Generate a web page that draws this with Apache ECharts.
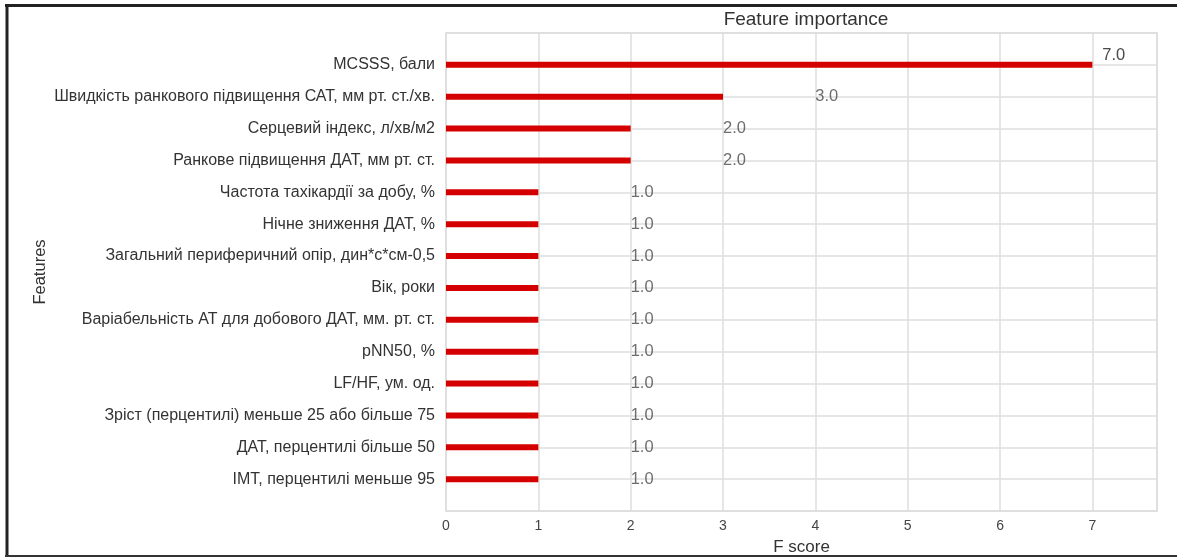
<!DOCTYPE html>
<html>
<head>
<meta charset="utf-8">
<script src="https://cdn.jsdelivr.net/npm/echarts@6/dist/echarts.min.js"></script>
<style>
  html, body { margin: 0; padding: 0; background: #fff; }
  #chart { width: 1177px; height: 557px; }
</style>
</head>
<body>
<div id="chart"></div>
<script>
// Feature names, top to bottom
const features = [
  'MCSSS, бали',
  'Швидкість ранкового підвищення САТ, мм рт. ст./хв.',
  'Серцевий індекс, л/хв/м2',
  'Ранкове підвищення ДАТ, мм рт. ст.',
  'Частота тахікардії за добу, %',
  'Нічне зниження ДАТ, %',
  'Загальний периферичний опір, дин*с*см-0,5',
  'Вік, роки',
  'Варіабельність АТ для добового ДАТ, мм. рт. ст.',
  'pNN50, %',
  'LF/HF, ум. од.',
  'Зріст (перцентилі) меньше 25 або більше 75',
  'ДАТ, перцентилі більше 50',
  'IMT, перцентилі меньше 95'
];
// F score per feature
const fScores = [7, 3, 2, 2, 1, 1, 1, 1, 1, 1, 1, 1, 1, 1];
const xTicks = [0, 1, 2, 3, 4, 5, 6, 7];
const xMax = 7.7;

const FONT = '"Liberation Sans", Arial, sans-serif';
const VALUE_LABEL = { color: '#4a4a4a', fontSize: 16.5, fontFamily: FONT };

// one empty slot above and below the bars gives the padding of the axis range
const yCats = [''].concat(features, ['']);
const barData = [null].concat(fScores.map(v => {
  if (v + 1 > xMax) {
    // no room one unit past the end: the score sits just right of the bar, raised
    return {
      value: v,
      label: Object.assign({
        show: true, position: 'right', distance: 10, offset: [0, -9],
        formatter: v.toFixed(1)
      }, VALUE_LABEL)
    };
  }
  return v;
}), [null]);
// score text sits one unit to the right of each bar end
const labelData = [];
fScores.forEach((v, i) => {
  if (v + 1 <= xMax) labelData.push({ value: [v + 1, features[i]], score: v });
});

const chart = echarts.init(document.getElementById('chart'), null, { renderer: 'canvas' });
chart.setOption({
  animation: false,
  backgroundColor: '#fff',
  title: {
    text: 'Feature importance',
    left: 801, top: 5, textAlign: 'center',
    textStyle: { fontFamily: FONT, fontSize: 19, fontWeight: 'normal', color: '#333' }
  },
  grid: {
    left: 446, right: 20, top: 33, bottom: 46,
    outerBoundsMode: 'none', containLabel: false,
    show: true, borderColor: '#d8d8d8', borderWidth: 1.5, backgroundColor: '#fff'
  },
  xAxis: {
    type: 'value', min: 0, max: xMax, interval: 1,
    name: 'F score', nameLocation: 'middle', nameGap: 28,
    nameTextStyle: { fontFamily: FONT, fontSize: 17, color: '#333' },
    axisLine: { show: false }, axisTick: { show: false },
    axisLabel: {
      fontFamily: FONT, fontSize: 14, color: '#444', margin: 8,
      showMaxLabel: false,
      formatter: v => (xTicks.indexOf(v) >= 0 ? String(v) : '')
    },
    splitLine: { show: true, lineStyle: { color: '#dedede', width: 1.5 } }
  },
  yAxis: {
    type: 'category', data: yCats, inverse: true, boundaryGap: false,
    name: 'Features', nameLocation: 'middle', nameGap: 397, nameMoveOverlap: false,
    nameTextStyle: { fontFamily: FONT, fontSize: 16.5, color: '#333' },
    axisLine: { show: false }, axisTick: { show: false },
    axisLabel: { fontFamily: FONT, fontSize: 16, color: '#333', margin: 11, interval: 0 },
    splitLine: { show: true, lineStyle: { color: '#dedede', width: 1.5 } }
  },
  series: [
    {
      type: 'bar', data: barData, barWidth: 6,
      itemStyle: { color: '#d40000' }
    },
    {
      type: 'scatter', data: labelData, symbolSize: 0,
      label: Object.assign({
        show: true, position: 'right', distance: 0,
        formatter: p => p.data.score.toFixed(1)
      }, VALUE_LABEL)
    }
  ],
  graphic: [
    { type: 'line', shape: { x1: 5, y1: 5.5, x2: 1177, y2: 5.5 }, style: { stroke: '#222', lineWidth: 3 } },
    { type: 'line', shape: { x1: 7, y1: 4, x2: 7, y2: 557 }, style: { stroke: '#222', lineWidth: 3 } },
    { type: 'line', shape: { x1: 5, y1: 556, x2: 1177, y2: 556 }, style: { stroke: '#333', lineWidth: 2 } }
  ]
});
</script>
</body>
</html>
